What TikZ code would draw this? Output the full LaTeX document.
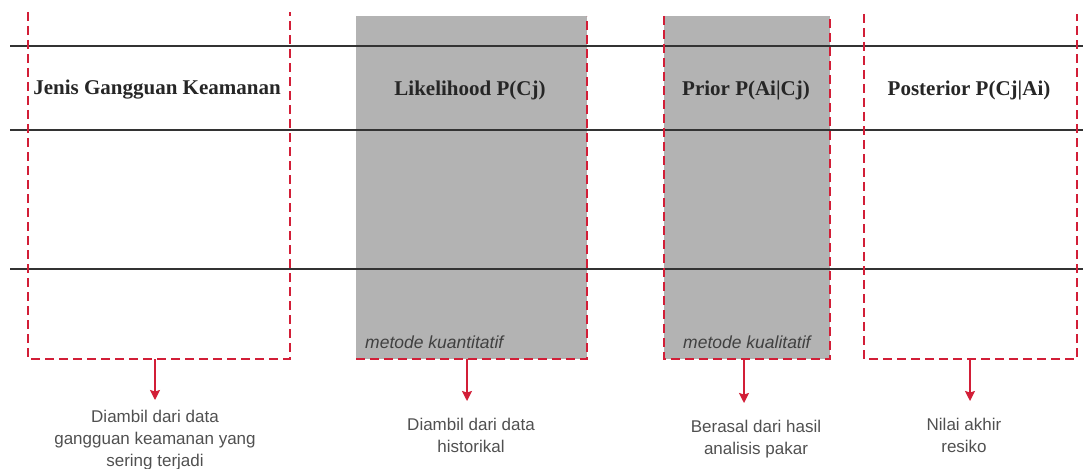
\documentclass[tikz,border=0pt]{standalone}
\usepackage{fontspec}
\setmainfont{Liberation Serif}
\setsansfont{Liberation Sans}
\usepackage{tikz}
\usetikzlibrary{arrows.meta}
\usepackage{xcolor}
\definecolor{batas}{RGB}{210,30,55}
\definecolor{abu}{RGB}{179,179,179}
\definecolor{teks}{RGB}{80,80,80}

\begin{document}
\begin{tikzpicture}[x=1pt, y=-1pt,
    garis/.style={line width=1.8pt, black!80},
    batasan/.style={draw=batas, line width=1.4pt, dash pattern=on 9pt off 5pt},
    judul/.style={font=\fontsize{21}{25}\selectfont\bfseries, text=black!85, inner sep=0pt},
    metode/.style={font=\sffamily\itshape\fontsize{17.5}{21}\selectfont, text=black!75, anchor=west, inner sep=0pt},
    ket/.style={font=\sffamily\fontsize{17}{22}\selectfont, text=teks, align=center, anchor=north, inner sep=0pt},
    panah/.style={draw=batas, line width=1.4pt, -{Stealth[length=10pt, width=10pt, inset=1.5pt]}, shorten >=17pt}]
    \useasboundingbox (0,0) rectangle (1083,468);
    % kolom abu-abu
    \fill[abu] (356,16) rectangle (587,359);
    \fill[abu] (664,16) rectangle (830,359);
    % garis baris
    \foreach \y in {46,130,269}
        \draw[garis] (10,\y) -- (1083,\y);
    % batas kolom
    \draw[batasan] (28,12) -- (28,359) -- (290,359) -- (290,12);
    \draw[batasan] (356,359) -- (587,359) -- (587,16);
    \draw[batasan] (664,16) -- (664,359) -- (830,359) -- (830,16);
    \draw[batasan] (864,14) -- (864,359) -- (1077,359) -- (1077,14);
    % judul kolom
    \node[judul] (jenis) at (157,90) {Jenis Gangguan Keamanan};
    \node[judul] (likelihood) at (470,90) {Likelihood P(Cj)};
    \node[judul] (prior) at (746,90) {Prior P(Ai|Cj)};
    \node[judul] (posterior) at (969,90) {Posterior P(Cj|Ai)};
    % metode
    \node[metode] (kuantitatif) at (365,342) {metode kuantitatif};
    \node[metode] (kualitatif) at (683,342) {metode kualitatif};
    % dasar kolom
    \coordinate (dasar1) at (155,359);
    \coordinate (dasar2) at (467,359);
    \coordinate (dasar3) at (744,359);
    \coordinate (dasar4) at (970,359);
    % keterangan
    \node[ket] (ket1) at (155,410) {Diambil dari data\\gangguan keamanan yang\\sering terjadi};
    \node[ket] (ket2) at (471,418) {Diambil dari data\\historikal};
    \node[ket] (ket3) at (756,420) {Berasal dari hasil\\analisis pakar};
    \node[ket] (ket4) at (964,418) {Nilai akhir\\resiko};
    % panah
    \draw[panah, shorten >=10pt] (dasar1) -- (dasar1 |- ket1.north);
    \draw[panah] (dasar2) -- (dasar2 |- ket2.north);
    \draw[panah] (dasar3) -- (dasar3 |- ket3.north);
    \draw[panah] (dasar4) -- (dasar4 |- ket4.north);
\end{tikzpicture}
\end{document}
